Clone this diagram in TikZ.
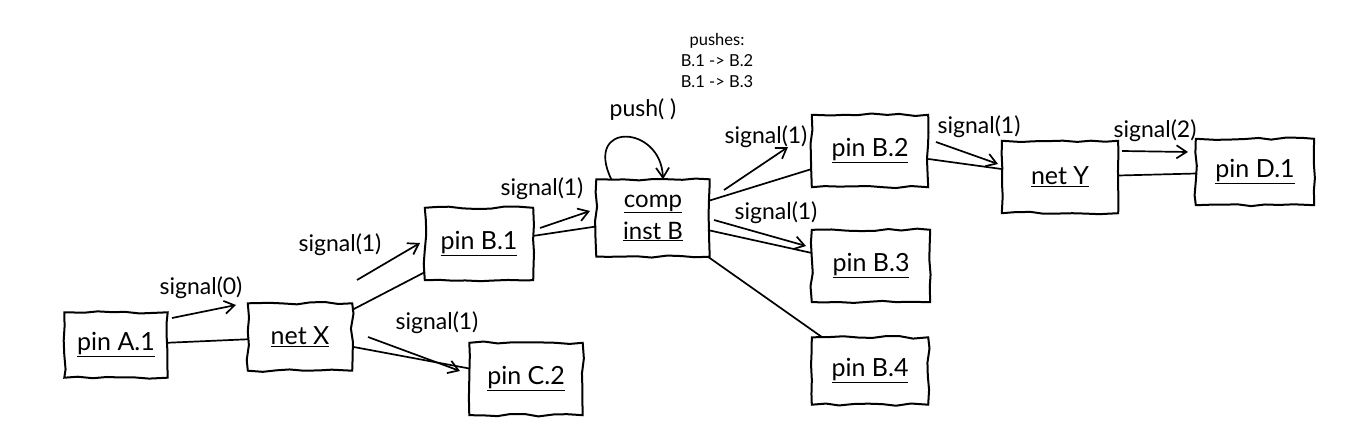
\documentclass[tikz,border=0pt]{standalone}
\usepackage{fontspec}
\setmainfont{Lato}
\usetikzlibrary{arrows.meta,decorations.pathmorphing}
\begin{document}
\begin{tikzpicture}[x=1pt,y=-1pt,
  sketch/.style={decorate,decoration={random steps,segment length=14pt,amplitude=1.3pt}},
  box/.style={minimum width=110pt,minimum height=70pt,inner sep=0pt,font=\fontsize{25}{27}\selectfont},
  outline/.style={draw,line width=2pt,sketch},
  wire/.style={line width=1.7pt},
  sig/.style={line width=1.7pt,-{Straight Barb[length=10pt,width=13pt,line width=1.7pt]}},
  lab/.style={font=\fontsize{23}{25}\selectfont,inner sep=1pt}]
\pgfmathsetseed{7}
\useasboundingbox (0,0) rectangle (1364,446);
% nodes
\node[box,minimum width=103pt,minimum height=65pt] (a1) at (116,345) {\underline{pin A.1}};
\node[box,minimum width=104pt,minimum height=67pt] (nx) at (300,337) {\underline{net X}};
\node[box,minimum width=108pt,minimum height=72pt] (b1) at (479,244) {\underline{pin B.1}};
\node[box,minimum width=113pt,minimum height=77pt,align=center,font=\fontsize{24}{32}\selectfont] (cb) at (653,218) {\underline{comp}\\\underline{inst B}};
\node[box,minimum width=116pt,minimum height=72pt] (b2) at (870,151) {\underline{pin B.2}};
\node[box,minimum width=118pt,minimum height=72pt] (b3) at (871,266) {\underline{pin B.3}};
\node[box,minimum width=116pt,minimum height=67pt] (b4) at (870,371) {\underline{pin B.4}};
\node[box,minimum width=113pt,minimum height=72pt] (c2) at (526,379) {\underline{pin C.2}};
\node[box,minimum width=116pt,minimum height=72pt] (ny) at (1060,177) {\underline{net Y}};
\node[box,minimum width=118pt,minimum height=66pt] (d1) at (1255,172) {\underline{pin D.1}};
\foreach \n in {a1,nx,b1,cb,b2,b3,b4,c2,ny,d1}
  \draw[outline] (\n.north west) rectangle (\n.south east);
% wires
\draw[wire] (a1) -- (nx);
\draw[wire] (nx) -- (b1);
\draw[wire] (nx) -- (c2);
\draw[wire] (b1) -- (cb);
\draw[wire] (cb) -- (b2);
\draw[wire] (cb) -- (b3);
\draw[wire] (cb) -- (b4);
\draw[wire] (b2) -- (ny);
\draw[wire] (ny) -- (d1);
% self loop
\draw[sig] ([xshift=15pt]cb.north west) .. controls +(-28,-58) and +(-2,-55) .. ([xshift=10pt]cb.north);
\node[lab] (pushl) at (643,110) {push( )};
\node[font=\fontsize{16.5}{21}\selectfont,align=center] (pushes) at (717,60) {pushes:\\B.1 -> B.2\\B.1 -> B.3};
% signal arrows
\coordinate (s0a) at (172,318); \coordinate (s0b) at (236,305);
\draw[sig] (s0a) -- (s0b);
\node[lab] (l0) at (201,288) {signal(0)};
\coordinate (s1a) at (357,280); \coordinate (s1b) at (420,243);
\draw[sig] (s1a) -- (s1b);
\node[lab] (l1) at (340,245) {signal(1)};
\coordinate (s2a) at (368,337); \coordinate (s2b) at (460,371);
\draw[sig] (s2a) -- (s2b);
\node[lab] (l2) at (437,323) {signal(1)};
\coordinate (s3a) at (540,228); \coordinate (s3b) at (590,211);
\draw[sig] (s3a) -- (s3b);
\node[lab] (l3) at (542,189) {signal(1)};
\coordinate (s4a) at (724,190); \coordinate (s4b) at (788,147);
\draw[sig] (s4a) -- (s4b);
\node[lab] (l4) at (766,137) {signal(1)};
\coordinate (s5a) at (714,220); \coordinate (s5b) at (806,246);
\draw[sig] (s5a) -- (s5b);
\node[lab] (l5) at (776,213) {signal(1)};
\coordinate (s6a) at (936,142); \coordinate (s6b) at (998,164);
\draw[sig] (s6a) -- (s6b);
\node[lab] (l6) at (979,127) {signal(1)};
\coordinate (s7a) at (1122,151); \coordinate (s7b) at (1188,152);
\draw[sig] (s7a) -- (s7b);
\node[lab] (l7) at (1155,131) {signal(2)};
\end{tikzpicture}
\end{document}
